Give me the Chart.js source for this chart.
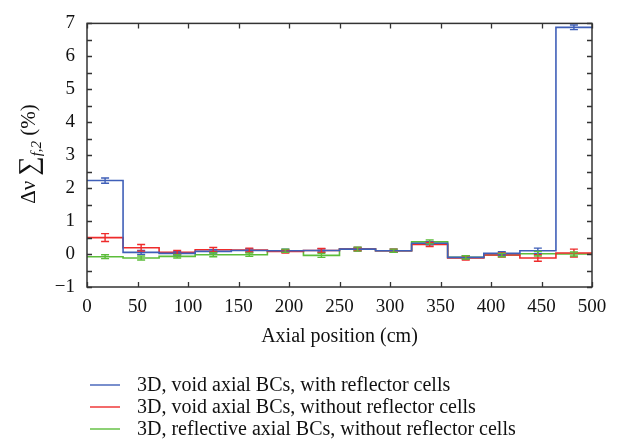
<!DOCTYPE html>
<html><head><meta charset="utf-8">
<script src="https://cdn.jsdelivr.net/npm/chart.js@4/dist/chart.umd.min.js"></script>
<style>html,body{margin:0;padding:0;background:#fff}#wrap{width:618px;height:444px;position:relative}</style>
</head><body><div id="wrap"><canvas id="c" width="618" height="444"></canvas></div>
<script>
const binEdges = [0, 35.7, 71.4, 107.1, 142.9, 178.6, 214.3, 250, 285.7, 321.4, 357.1, 392.9, 428.6, 464.3, 500];
const binCenters = [17.9, 53.6, 89.3, 125, 160.7, 196.4, 232.1, 267.9, 303.6, 339.3, 375, 410.7, 446.4, 482.1];
const seriesLabels = ["3D, void axial BCs, with reflector cells", "3D, void axial BCs, without reflector cells", "3D, reflective axial BCs, without reflector cells"];
const blueVals = [2.23, 0.05, 0.02, 0.08, 0.11, 0.10, 0.11, 0.15, 0.10, 0.33, -0.10, 0.02, 0.10, 6.88];
const redVals = [0.50, 0.19, 0.05, 0.13, 0.12, 0.08, 0.11, 0.15, 0.10, 0.29, -0.12, -0.03, -0.12, 0.03];
const greenVals = [-0.08, -0.12, -0.07, -0.02, -0.02, 0.10, -0.04, 0.15, 0.10, 0.37, -0.10, -0.03, 0.01, 0.00];
const blueErr = [0.08, 0.06, 0.05, 0.05, 0.05, 0.05, 0.05, 0.05, 0.05, 0.05, 0.05, 0.05, 0.08, 0.07];
const redErr = [0.12, 0.10, 0.06, 0.07, 0.06, 0.05, 0.06, 0.05, 0.05, 0.06, 0.06, 0.06, 0.10, 0.12];
const greenErr = [0.06, 0.06, 0.05, 0.06, 0.05, 0.05, 0.06, 0.06, 0.05, 0.06, 0.05, 0.05, 0.07, 0.06];
const xTicks = [0, 50, 100, 150, 200, 250, 300, 350, 400, 450, 500];
const yTicks = [-1, 0, 1, 2, 3, 4, 5, 6, 7];

const colors = ['#3f5fb8', '#ee2b2b', '#5cbd3a'];
const FONT = '"Liberation Serif", "DejaVu Serif", serif';

function stepData(vals){
  return binEdges.map((e,i)=>({x:e, y: vals[Math.min(i, vals.length-1)]}));
}
const allVals = [blueVals, redVals, greenVals];
const allErr = [blueErr, redErr, greenErr];

const frameTicks = {
  id:'frameTicks',
  afterDatasetsDraw(chart){
    const {ctx, chartArea:a, scales:{x,y}} = chart;
    ctx.save();
    // error bars
    allVals.forEach((vals,si)=>{
      ctx.strokeStyle = colors[si];
      ctx.lineWidth = 1.4;
      vals.forEach((v,i)=>{
        const px = x.getPixelForValue(binCenters[i]);
        const y1 = y.getPixelForValue(v - allErr[si][i]);
        const y2 = y.getPixelForValue(v + allErr[si][i]);
        ctx.beginPath();
        ctx.moveTo(px, y1); ctx.lineTo(px, y2);
        ctx.moveTo(px-4, y1); ctx.lineTo(px+4, y1);
        ctx.moveTo(px-4, y2); ctx.lineTo(px+4, y2);
        ctx.stroke();
      });
    });
    // frame
    ctx.strokeStyle = '#333';
    ctx.lineWidth = 1.5;
    ctx.strokeRect(a.left, a.top, a.right-a.left, a.bottom-a.top);
    ctx.lineWidth = 1.3;
    ctx.beginPath();
    x.ticks.forEach(t=>{
      const px = Math.round(x.getPixelForValue(t.value))+0.5;
      ctx.moveTo(px, a.bottom); ctx.lineTo(px, a.bottom-5);
      ctx.moveTo(px, a.top); ctx.lineTo(px, a.top+5);
    });
    y.ticks.forEach(t=>{
      const py = Math.round(y.getPixelForValue(t.value))+0.5;
      ctx.moveTo(a.left, py); ctx.lineTo(a.left+5, py);
      ctx.moveTo(a.right, py); ctx.lineTo(a.right-5, py);
    });
    ctx.stroke();
    // y title
    ctx.fillStyle = '#111';
    ctx.translate(27, 154);
    ctx.rotate(-Math.PI/2);
    ctx.textBaseline = 'alphabetic';
    const parts = [
      {t:'Δν ', f:'21px '+FONT, dy:0},
      {t:'∑', f:'27px '+FONT, dy:2},
      {t:'f,2', f:'italic 15px '+FONT, dy:6},
      {t:' (%)', f:'21px '+FONT, dy:0}
    ];
    let total = 0;
    parts.forEach(p=>{ctx.font=p.f; p.w = ctx.measureText(p.t).width; total += p.w;});
    let cx = -total/2;
    parts.forEach(p=>{ctx.font=p.f; ctx.fillText(p.t, cx, 8+p.dy); cx += p.w;});
    ctx.restore();
    // legend
    ctx.save();
    ctx.font = '20px '+FONT;
    ctx.textBaseline = 'middle';
    seriesLabels.forEach((lab,i)=>{
      const yy = 385 + i*22;
      ctx.strokeStyle = colors[i];
      ctx.lineWidth = 1.4;
      ctx.beginPath(); ctx.moveTo(90, yy); ctx.lineTo(120, yy); ctx.stroke();
      ctx.fillStyle = '#111';
      ctx.fillText(lab, 137, yy+1);
    });
    ctx.restore();
  }
};

new Chart(document.getElementById('c'), {
  type:'line',
  data:{
    datasets: allVals.map((vals,i)=>({
      label: seriesLabels[i],
      data: stepData(vals),
      stepped:'before',
      borderColor: colors[i],
      borderWidth: 1.6,
      pointRadius: 0,
      fill:false
    }))
  },
  options:{
    responsive:false,
    animation:false,
    layout:{padding:{top:10, right:26, left:0, bottom:0}},
    plugins:{legend:{display:false}, tooltip:{enabled:false}},
    scales:{
      x:{
        type:'linear', min:0, max:500,
        afterBuildTicks(s){ s.ticks = xTicks.map(v=>({value:v})); },
        afterFit(s){ s.height = 157; },
        grid:{display:false, drawTicks:false},
        border:{display:false},
        ticks:{padding:9, color:'#111', font:{family:FONT, size:19}, maxRotation:0, autoSkip:false},
        title:{display:true, text:'Axial position (cm)', color:'#111', font:{family:FONT, size:20}, padding:{top:6, bottom:95}}
      },
      y:{
        type:'linear', min:-1, max:7,
        afterBuildTicks(s){ const t=[]; yTicks.forEach((v,i)=>{t.push({value:v}); if(i<yTicks.length-1) t.push({value:v+0.5});}); s.ticks=t; },
        afterFit(s){ s.width = 87; },
        grid:{display:false, drawTicks:false},
        border:{display:false},
        ticks:{padding:12, color:'#111', font:{family:FONT, size:19}, autoSkip:false,
          callback:(v)=> Number.isInteger(v) ? (v<0 ? '\u2212'+Math.abs(v) : String(v)) : ''}
      }
    }
  },
  plugins:[frameTicks]
});
</script></body></html>
